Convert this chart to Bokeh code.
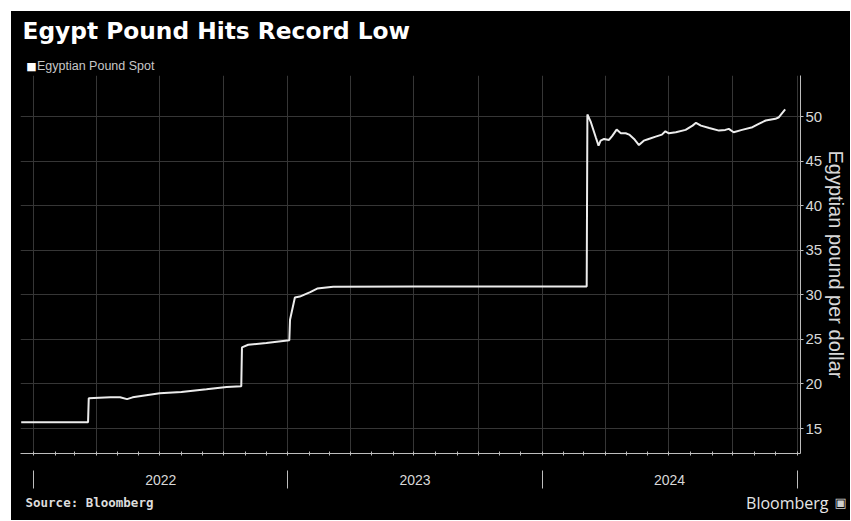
import pandas as pd
from bokeh.plotting import figure
from bokeh.layouts import column
from bokeh.models import (Range1d, LinearAxis, FixedTicker, Legend, LegendItem, Label)
from bokeh.embed import file_html
from bokeh.resources import INLINE

# ---------------- data ----------------
dates = [
    "2021-12-14", "2022-03-20", "2022-03-21", "2022-04-05", "2022-04-21", "2022-05-05",
    "2022-05-15", "2022-05-23", "2022-07-01", "2022-08-01", "2022-09-06", "2022-10-05",
    "2022-10-26", "2022-10-27", "2022-11-05", "2022-12-01", "2023-01-03", "2023-01-04",
    "2023-01-11", "2023-01-18", "2023-02-02", "2023-02-12", "2023-03-07", "2023-07-01",
    "2023-12-01", "2024-03-05", "2024-03-06", "2024-03-11", "2024-03-18", "2024-03-22",
    "2024-03-25", "2024-03-30", "2024-04-06", "2024-04-11", "2024-04-17", "2024-04-23",
    "2024-04-30", "2024-05-05", "2024-05-12", "2024-05-19", "2024-05-26", "2024-06-02",
    "2024-06-12", "2024-06-21", "2024-06-26", "2024-07-01", "2024-07-11", "2024-07-25",
    "2024-08-04", "2024-08-09", "2024-08-16", "2024-08-28", "2024-09-11", "2024-09-20",
    "2024-09-25", "2024-10-02", "2024-10-14", "2024-10-29", "2024-11-07", "2024-11-17",
    "2024-12-01", "2024-12-06", "2024-12-15",
]
egp_per_usd = [
    15.7, 15.7, 18.4, 18.45, 18.5, 18.5,
    18.3, 18.5, 18.95, 19.1, 19.4, 19.66,
    19.75, 24.1, 24.4, 24.6, 24.9, 27.2,
    29.7, 29.8, 30.3, 30.7, 30.9, 30.93,
    30.93, 30.93, 50.23, 49.36, 47.67, 46.73,
    47.29, 47.48, 47.37, 47.86, 48.53, 48.12,
    48.12, 47.97, 47.48, 46.8, 47.29, 47.48,
    47.74, 47.97, 48.34, 48.12, 48.23, 48.5,
    48.98, 49.29, 48.98, 48.72, 48.42, 48.5,
    48.61, 48.23, 48.5, 48.8, 49.18, 49.55,
    49.74, 49.92, 50.79,
]
title_text = "Egypt Pound Hits Record Low"
series_name = "Egyptian Pound Spot"
source_text = "Source: Bloomberg"
brand_text = "Bloomberg"
y_ticks = [15, 20, 25, 30, 35, 40, 45, 50]
year_labels = ["2022", "2023", "2024"]
year_starts = ["2022-01-01", "2023-01-01", "2024-01-01", "2025-01-01"]
x_start, x_end = "2021-12-13", "2025-01-06"
y_start, y_end = 12.2, 54.6


def ms(d):
    return int((pd.Timestamp(d) - pd.Timestamp("1970-01-01")) // pd.Timedelta("1ms"))


xs = [ms(d) for d in dates]
start_ms = [ms(d) for d in year_starts]
mid_ms = [(a + b) // 2 for a, b in zip(start_ms[:-1], start_ms[1:])]
month_ms = [ms(d) for d in pd.date_range("2022-01-01", "2025-01-01", freq="MS")]
quarter_ms = [ms(d) for d in pd.date_range("2022-01-01", "2025-01-01", freq="QS")]

AX = "#bdbdbd"
GRID = "#363636"
TXT = "#d8d8d8"
FONT = "Liberation Sans"
W = 839


def strip(height):
    f = figure(
        width=W, height=height, x_range=Range1d(0, W), y_range=Range1d(0, height),
        x_axis_location=None, y_axis_location=None,
        output_backend="svg", toolbar_location=None,
        background_fill_color="black", border_fill_color="black",
        outline_line_color=None, min_border=0,
    )
    f.frame_align = False
    f.xgrid.visible = False
    f.ygrid.visible = False
    return f


# ---------------- header: title + legend ----------------
head = strip(64)
head.add_layout(Label(x=11, y=45, text=title_text, text_color="white",
                      text_font="DejaVu Sans", text_font_style="bold", text_font_size="23.3px",
                      text_baseline="alphabetic", text_align="left"))
sq = head.scatter(x=[], y=[], marker="square", color="white")
legend = Legend(
    items=[LegendItem(label=series_name, renderers=[sq])],
    location=(17, 1), orientation="horizontal",
    glyph_width=7, glyph_height=17, label_standoff=2, label_height=17,
    padding=0, margin=0, spacing=0,
    background_fill_alpha=0, border_line_color=None,
    label_text_color="#c8c8c8", label_text_font=FONT, label_text_font_size="12.5px",
)
head.add_layout(legend, "center")
# legend key swatch (white square)
head.add_layout(Label(x=20, y=9.5, text="\u25A0", text_color="white",
                      text_font="DejaVu Sans", text_font_size="11px",
                      text_baseline="middle", text_align="center"))

# ---------------- main chart ----------------
p = figure(
    width=W, height=415,
    x_range=Range1d(ms(x_start), ms(x_end)),
    y_range=Range1d(y_start, y_end),
    x_axis_location=None, y_axis_location="right",
    output_backend="svg", toolbar_location=None,
    background_fill_color="black", border_fill_color="black",
    outline_line_color=None,
    min_border_left=9, min_border_right=47, min_border_top=0, min_border_bottom=37,
)
p.frame_align = False

p.xgrid.ticker = FixedTicker(ticks=quarter_ms)
p.xgrid.grid_line_color = GRID
p.ygrid.ticker = FixedTicker(ticks=y_ticks)
p.ygrid.grid_line_color = GRID

ya = p.yaxis[0]
ya.ticker = FixedTicker(ticks=y_ticks)
ya.axis_line_color = AX
ya.major_tick_line_color = AX
ya.major_tick_in = 0
ya.major_tick_out = 3
ya.minor_tick_line_color = None
ya.major_label_standoff = 2
ya.major_label_text_color = TXT
ya.major_label_text_font = FONT
ya.major_label_text_font_size = "15px"
ya.axis_label = "Egyptian pound per dollar"
ya.axis_label_text_color = TXT
ya.axis_label_text_font = FONT
ya.axis_label_text_font_size = "20px"
ya.axis_label_text_font_style = "normal"
ya.axis_label_standoff = 0

# bottom axis 1: axis line with month ticks
xa1 = LinearAxis(
    ticker=FixedTicker(ticks=month_ms),
    axis_line_color=AX, major_tick_line_color=AX,
    major_tick_in=2, major_tick_out=2, minor_tick_line_color=None,
    major_label_overrides={m: "" for m in month_ms},
    major_label_text_font_size="0px",
)
p.add_layout(xa1, "below")

# bottom axis 2: year separators (detached from the axis line) and year labels
xa2 = LinearAxis(
    ticker=FixedTicker(ticks=mid_ms, minor_ticks=start_ms),
    axis_line_color=None, major_tick_line_color=None,
    major_tick_in=0, major_tick_out=0,
    minor_tick_line_color=AX, minor_tick_in=-15, minor_tick_out=33,
    major_label_overrides={m: lab for m, lab in zip(mid_ms, year_labels)},
    major_label_standoff=-14,
    major_label_text_color=TXT, major_label_text_font=FONT,
    major_label_text_font_size="14px",
)
p.add_layout(xa2, "below")

p.line(xs, egp_per_usd, line_color="#ececec", line_width=2)

# ---------------- footer ----------------
foot = strip(30)
foot.add_layout(Label(x=14, y=18, text=source_text,
                      text_color="#dcdcdc", text_font="DejaVu Sans Mono", text_font_style="bold",
                      text_font_size="12.5px", text_baseline="middle", text_align="left"))
foot.add_layout(Label(x=817, y=18, text=brand_text,
                      text_color="#e6e6e6", text_font="Open Sans",
                      text_font_size="16px", text_baseline="middle", text_align="right"))
foot.add_layout(Label(x=823, y=18, text="\u25A3",
                      text_color="#cfcfcf", text_font="DejaVu Sans",
                      text_font_size="13px", text_baseline="middle", text_align="left"))

layout = column(head, p, foot, spacing=0)
layout.margin = (11, 0, 0, 11)
layout.styles = {"background-color": "black"}

open("out.html", "w").write(file_html(layout, INLINE))
